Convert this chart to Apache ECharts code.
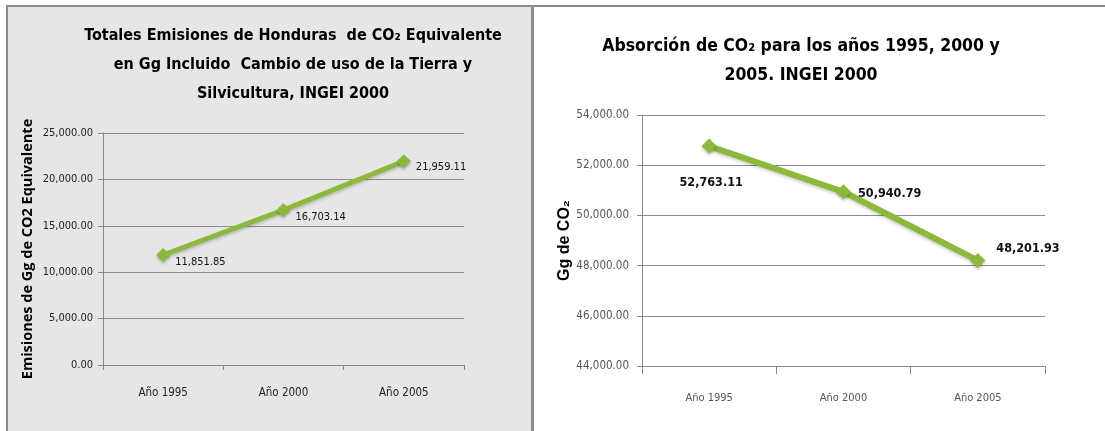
<!DOCTYPE html>
<html><head><meta charset="utf-8">
<script src="https://cdn.jsdelivr.net/npm/echarts@6/dist/echarts.min.js"></script>
<style>html,body{margin:0;padding:0;background:#fff}#c{width:1105px;height:431px}</style>
</head><body><div id="c"></div>
<script>
const categories = ['Año 1995', 'Año 2000', 'Año 2005'];
const emisiones = [11851.85, 16703.14, 21959.11];
const absorcion = [52763.11, 50940.79, 48201.93];
const leftTitle = 'Totales Emisiones de Honduras  de CO₂ Equivalente\nen Gg Incluido  Cambio de uso de la Tierra y\nSilvicultura, INGEI 2000';
const rightTitle = 'Absorción de CO₂ para los años 1995, 2000 y\n2005. INGEI 2000';
const leftYName = 'Emisiones de Gg de CO2 Equivalente';
const rightYName = 'Gg de CO₂';

const NARROW = '"Liberation Sans Narrow", "Arial Narrow", "DejaVu Sans Condensed", sans-serif';
const GREEN = '#8cb83c';
const fmt = v => v.toLocaleString('en-US', {minimumFractionDigits: 2, maximumFractionDigits: 2});

const leftLabelPos = [
  {position: 'right', offset: [0, 7]},
  {position: 'right', offset: [0, 7]},
  {position: 'right', offset: [0, 6]}
];
const rightLabelPos = [
  {position: 'bottom', offset: [2, 18]},
  {position: 'right', offset: [2, 2]},
  {position: 'right', offset: [6, -12]}
];

const chart = echarts.init(document.getElementById('c'), null, {renderer: 'canvas'});
chart.setOption({
  animation: false,
  graphic: [
    {type: 'rect', shape: {x: 6, y: 5, width: 527, height: 440}, style: {fill: '#e6e6e6', stroke: null}, z: -10},
    {type: 'rect', shape: {x: 6, y: 5, width: 2, height: 440}, style: {fill: '#8c8c8c'}, z: -9},
    {type: 'rect', shape: {x: 6, y: 5, width: 1099, height: 2}, style: {fill: '#8c8c8c'}, z: -9},
    {type: 'rect', shape: {x: 531, y: 5, width: 3, height: 440}, style: {fill: '#8c8c8c'}, z: -9}
  ],
  title: [
    {text: leftTitle, left: 288, top: 16, textAlign: 'center',
     textStyle: {fontFamily: NARROW, fontWeight: 'bold', fontSize: 16, lineHeight: 29, color: '#000'}},
    {text: rightTitle, left: 796, top: 27, textAlign: 'center',
     textStyle: {fontFamily: NARROW, fontWeight: 'bold', fontSize: 17.5, lineHeight: 29, color: '#000'}}
  ],
  grid: [
    {left: 103, right: 641, top: 133, bottom: 66},
    {left: 642, right: 60, top: 115, bottom: 65}
  ],
  xAxis: [
    {type: 'category', gridIndex: 0, data: categories,
     axisLine: {lineStyle: {color: '#888', width: 1}},
     axisTick: {show: true, length: 5, lineStyle: {color: '#888'}},
     axisLabel: {fontFamily: NARROW, fontSize: 11.5, color: '#222', margin: 22}},
    {type: 'category', gridIndex: 1, data: categories,
     axisLine: {lineStyle: {color: '#888', width: 1}},
     axisTick: {show: true, length: 8, lineStyle: {color: '#888'}},
     axisLabel: {fontFamily: NARROW, fontSize: 11, color: '#555', margin: 27}}
  ],
  yAxis: [
    {type: 'value', gridIndex: 0, min: 0, max: 25000, interval: 5000,
     name: leftYName, nameLocation: 'middle', nameGap: 68, nameRotate: 90,
     nameTextStyle: {fontFamily: '"Open Sans", sans-serif', fontWeight: 'bold', fontSize: 14.5, color: '#000'},
     axisLine: {show: true, lineStyle: {color: '#888'}},
     axisTick: {show: true, length: 5, lineStyle: {color: '#888'}},
     splitLine: {lineStyle: {color: '#8c8c8c', width: 1}},
     axisLabel: {fontFamily: NARROW, fontSize: 11, color: '#222', margin: 10, formatter: fmt}},
    {type: 'value', gridIndex: 1, min: 44000, max: 54000, interval: 2000,
     name: rightYName, nameLocation: 'middle', nameGap: 68, nameRotate: 90,
     nameTextStyle: {fontFamily: '"Liberation Sans", Arial, sans-serif', fontWeight: 'bold', fontSize: 16, color: '#000'},
     axisLine: {show: true, lineStyle: {color: '#888'}},
     axisTick: {show: true, length: 5, lineStyle: {color: '#888'}},
     splitLine: {lineStyle: {color: '#8c8c8c', width: 1}},
     axisLabel: {fontFamily: NARROW, fontSize: 11.5, color: '#555', margin: 13, formatter: fmt}}
  ],
  series: [
    {type: 'line', xAxisIndex: 0, yAxisIndex: 0,
     data: emisiones.map((v, i) => ({value: v, label: leftLabelPos[i]})),
     lineStyle: {color: GREEN, width: 5, shadowColor: 'rgba(0,0,0,0.2)', shadowBlur: 3, shadowOffsetY: 2},
     itemStyle: {color: GREEN, shadowColor: 'rgba(0,0,0,0.25)', shadowBlur: 3, shadowOffsetY: 2},
     symbol: 'diamond', symbolSize: 14,
     label: {show: true, fontFamily: NARROW, fontSize: 11, color: '#111', formatter: p => fmt(p.value)}},
    {type: 'line', xAxisIndex: 1, yAxisIndex: 1,
     data: absorcion.map((v, i) => ({value: v, label: rightLabelPos[i]})),
     lineStyle: {color: GREEN, width: 6, shadowColor: 'rgba(0,0,0,0.2)', shadowBlur: 3, shadowOffsetY: 2},
     itemStyle: {color: GREEN, shadowColor: 'rgba(0,0,0,0.25)', shadowBlur: 3, shadowOffsetY: 2},
     symbol: 'diamond', symbolSize: 15,
     label: {show: true, fontFamily: NARROW, fontWeight: 'bold', fontSize: 12.5, color: '#111', formatter: p => fmt(p.value)}}
  ]
});
</script></body></html>
